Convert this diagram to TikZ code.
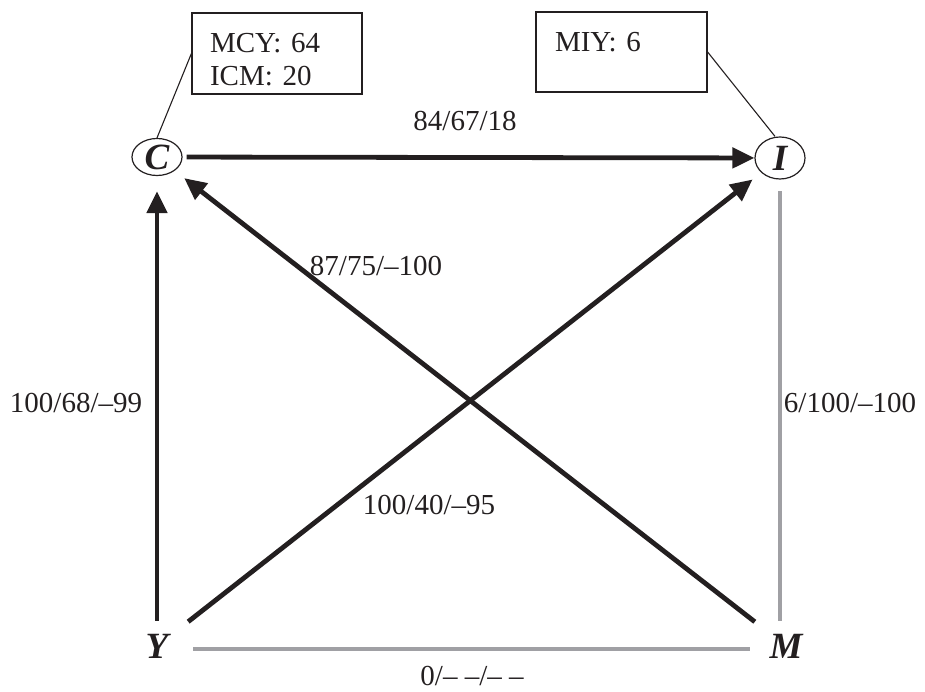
\documentclass[tikz,border=0pt]{standalone}
\usepackage{fontspec}
\setmainfont{Liberation Serif}
\usetikzlibrary{arrows.meta,shapes.geometric}
\definecolor{ink}{RGB}{35,31,32}
\definecolor{greyline}{RGB}{160,160,164}
\begin{document}
\begin{tikzpicture}[x=1pt,y=-1pt,
  lbl/.style={font=\fontsize{29}{33}\selectfont, inner sep=0pt, text=ink},
  var/.style={font=\fontsize{37}{40}\selectfont\bfseries\itshape, inner sep=0pt, text=ink},
  circ/.style={var, draw=ink, ellipse, line width=1.2pt, minimum width=50pt, minimum height=37pt},
  pt/.style={var, minimum width=62pt, minimum height=50pt},
  infobox/.style={draw=ink, line width=1.2pt, font=\fontsize{29}{33}\selectfont, align=left, inner xsep=18pt, inner ysep=0pt, text=ink},
  strong/.style={draw=ink, line width=4.8pt, -{Triangle[length=22pt,width=20pt]}},
  weak/.style={draw=greyline, line width=4pt},
  lead/.style={draw=ink, line width=1.1pt}]
\useasboundingbox (0,0) rectangle (925,692);

% variables
\node[circ] (C) at (157,157) {C};
\node[circ, minimum width=50pt, minimum height=42pt] (I) at (780,158) {I};
\node[pt] (Y) at (157,646) {Y};
\node[pt] (M) at (786,646) {M};

% info boxes
\node[infobox, text width=134pt, minimum height=81pt] (B1) at (277,53.5) {\rule{0pt}{32pt}MCY: 64\\ICM: 20};
\node[infobox, inner xsep=19pt, text width=133pt, minimum height=80pt] (B2) at (621.5,52) {\rule{0pt}{32pt}MIY: 6\\\phantom{ICM: 20}};
\draw[lead] (B1.west) -- (C.north);
\draw[lead] (B2.east) -- ([xshift=-5pt]I.north);

% connectors
\draw[strong, shorten <=4pt] (C) -- (I);
\draw[strong, shorten >=15pt] (Y) -- (C);
\draw[strong, shorten >=11pt] (Y) -- (I);
\draw[strong, shorten >=12pt] (M) -- (C);
\draw[weak, shorten >=11pt] (M.north -| I.south) -- (I.south);
\draw[weak, shorten <=5pt, shorten >=5pt] ([yshift=-3pt]Y.east) -- ([yshift=-3pt]M.west);

% labels
\node[lbl] (l1) at (465,121) {84/67/18};
\node[lbl] (l2) at (376,266) {87/75/–100};
\node[lbl] (l3) at (76,403) {100/68/–99};
\node[lbl] (l4) at (850,403) {6/100/–100};
\node[lbl] (l5) at (429,505) {100/40/–95};
\node[lbl] (l6) at (472,676) {0/– –/– –};
\end{tikzpicture}
\end{document}
